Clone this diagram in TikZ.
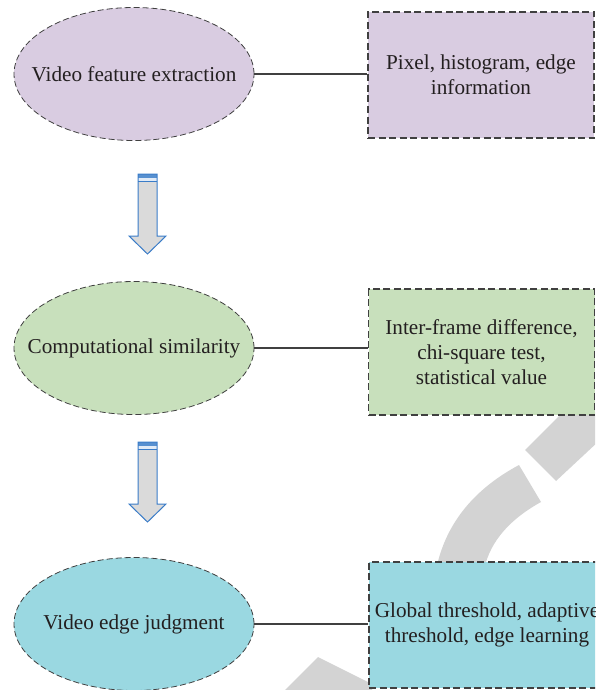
\documentclass[tikz,border=0pt]{standalone}
\usepackage{fontspec}
\setmainfont{Liberation Serif}
\usetikzlibrary{shapes.geometric}
\definecolor{lav}{HTML}{D9CCE1}
\definecolor{sage}{HTML}{C8E0BC}
\definecolor{aqua}{HTML}{9AD8E1}
\definecolor{edgegray}{HTML}{404040}
\definecolor{ink}{HTML}{231F20}
\definecolor{wm}{HTML}{D3D3D3}
\definecolor{arrblue}{HTML}{3A7CC8}
\definecolor{arrfill}{HTML}{DADADA}
\tikzset{
  oval/.style={ellipse, draw=edgegray, line width=0.8pt, dash pattern=on 6pt off 3pt,
    minimum width=240pt, minimum height=133pt, inner sep=0pt},
  ovaltext/.style={text=ink, inner sep=0pt},
  infobox/.style={rectangle, draw=edgegray, line width=1.1pt, dash pattern=on 7pt off 3.5pt,
    minimum width=226pt, minimum height=126pt, inner sep=0pt, align=center, text=ink},
  link/.style={draw=edgegray, line width=1.1pt},
  wmark/.style={fill=wm},
  blockarrow/.pic={
    \fill[arrfill] (-9.5,7) -- (-9.5,62) -- (-18.5,62) -- (0,80) -- (18.5,62) -- (9.5,62) -- (9.5,7) -- cycle;
    \fill[arrblue!85] (-9.5,0) rectangle (9.5,3.5);
    \fill[arrblue!15] (-9.5,3.5) rectangle (9.5,6.5);
    \draw[arrblue, line width=1pt, line join=miter] (-9.5,0) -- (-9.5,62) -- (-18.5,62) -- (0,80) -- (18.5,62) -- (9.5,62) -- (9.5,0) -- cycle;
    \draw[arrblue, line width=1pt] (-9.5,7) -- (9.5,7);
  }
}
\begin{document}
\begin{tikzpicture}[x=1pt, y=-1pt, font=\fontsize{21.2}{25}\selectfont]
\useasboundingbox (0,0) rectangle (595,690);
\clip (0,0) rectangle (595,690);
% watermark
\fill[wmark] (525,450) -- (556,481) -- (600,440) -- (600,412) -- (563,412) -- cycle;
\fill[wmark] (519,465) .. controls (478,487) and (446,520) .. (436,570) -- (484,570) .. controls (490,540) and (512,518) .. (541,502) -- cycle;
\fill[wmark] (283,692) -- (318,657) -- (372,684) -- (372,692) -- cycle;
% ellipses
\node[oval, fill=lav] (e1) at (134,74) {};
\node[oval, fill=sage] (e2) at (134,348) {};
\node[oval, fill=aqua] (e3) at (134,624) {};
\node[ovaltext] (t1) at (e1.center) {Video feature extraction};
\node[ovaltext] (t2) at (e2.center) {Computational similarity};
\node[ovaltext] (t3) at (e3.center) {Video edge judgment};
% boxes
\node[infobox, fill=lav] (b1) at (481,75) {Pixel, histogram, edge\\information};
\node[infobox, fill=sage] (b2) at (481.5,352) {Inter-frame difference,\\chi-square test,\\statistical value};
\node[infobox, fill=aqua, minimum width=236pt] (b3) at (487,625) {Global threshold, adaptive\\threshold, edge learning};
% connectors
\draw[link] (e1.east) -- (e1.east -| b1.west);
\draw[link] (e2.east) -- (e2.east -| b2.west);
\draw[link] (e3.east) -- (e3.east -| b3.west);
% block arrows
\pic at (147.5,174) {blockarrow};
\pic at (147.5,442) {blockarrow};
\end{tikzpicture}
\end{document}
